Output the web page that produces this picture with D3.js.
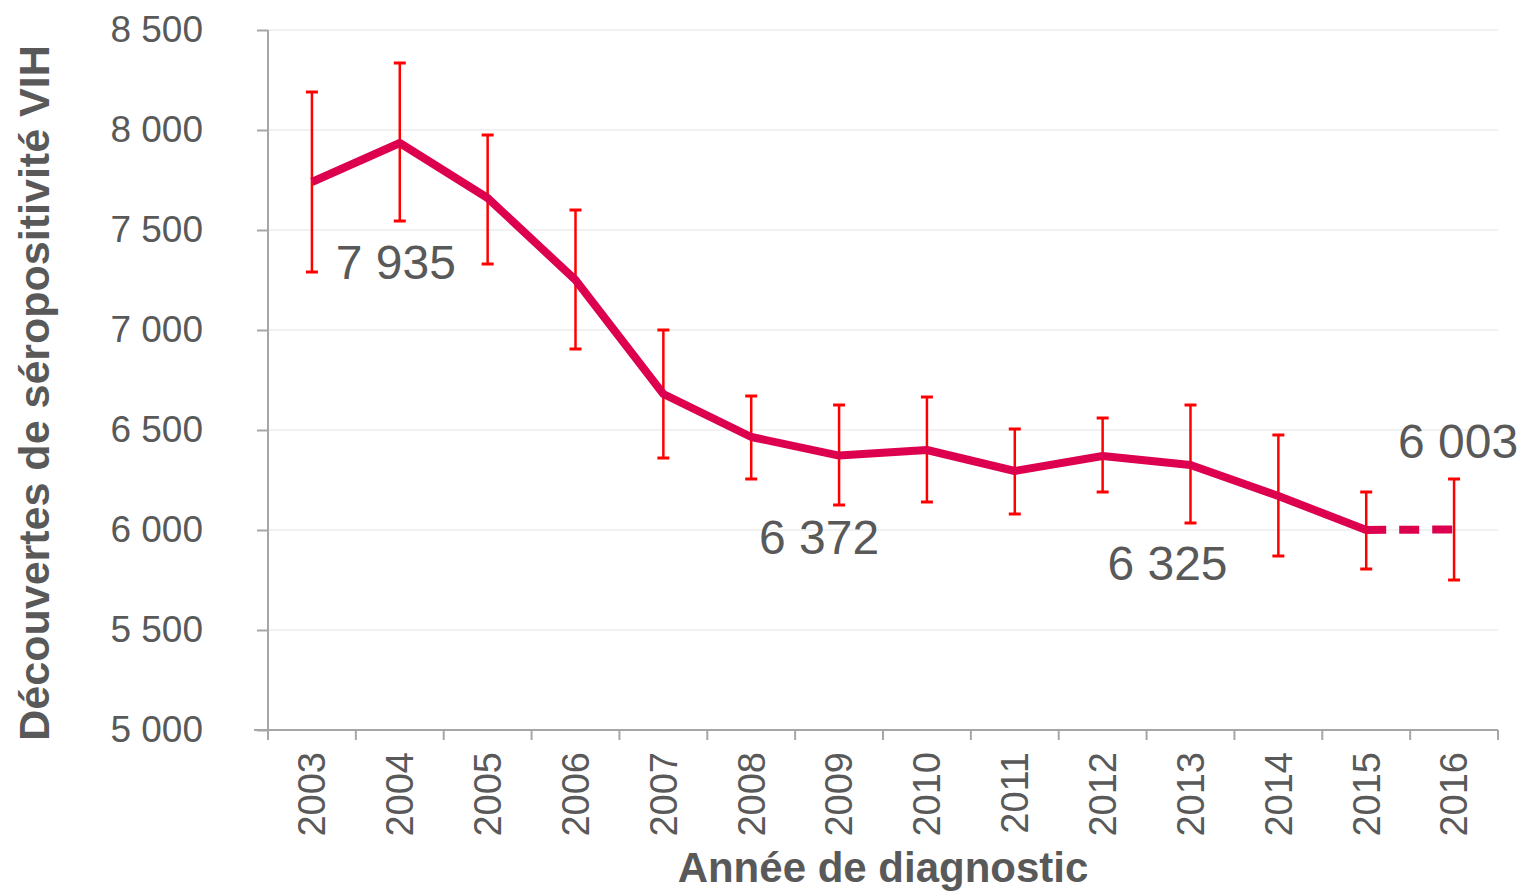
<!DOCTYPE html>
<html>
<head>
<meta charset="utf-8">
<script src="https://cdn.jsdelivr.net/npm/d3@7"></script>
<style>
  body { margin: 0; background: #fff; }
  text { font-family: "Liberation Sans", Arial, sans-serif; fill: #595959; }
</style>
</head>
<body>
<svg id="chart"></svg>
<script>
// data
var years = [2003, 2004, 2005, 2006, 2007, 2008, 2009, 2010, 2011, 2012, 2013, 2014, 2015, 2016];
var cases = [7740, 7935, 7660, 7250, 6680, 6465, 6372, 6400, 6295, 6370, 6325, 6170, 6000, 6003];
var lower = [7290, 7545, 7330, 6905, 6360, 6255, 6125, 6140, 6080, 6190, 6035, 5870, 5805, 5750];
var upper = [8190, 8335, 7975, 7600, 7000, 6670, 6625, 6665, 6505, 6560, 6625, 6475, 6190, 6255];
var yTicks = [5000, 5500, 6000, 6500, 7000, 7500, 8000, 8500];
var labelYears = [2004, 2009, 2013, 2016];
var labelTexts = ["7 935", "6 372", "6 325", "6 003"];

var margin = {top: 30, right: 24, bottom: 162, left: 268};
var width = 1230, height = 700;

var data = years.map(function(y, i) {
  return {year: y, value: cases[i], lo: lower[i], hi: upper[i]};
});

var fr = d3.formatLocale({decimal: ",", thousands: " ", grouping: [3], currency: ["", "€"]});
var fmt = fr.format(",");

var svg = d3.select("#chart")
    .attr("width", 1522)
    .attr("height", 892)
  .append("g")
    .attr("transform", "translate(" + margin.left + "," + margin.top + ")");

var x = d3.scaleBand().domain(years).range([0, width]);
var y = d3.scaleLinear().domain([5000, 8500]).range([height, 0]);

function cx(yr) { return x(yr) + x.bandwidth() / 2; }

// grid
svg.selectAll(".grid")
  .data(yTicks.slice(1))
  .enter().append("line")
    .attr("x1", 0).attr("x2", width)
    .attr("y1", function(d) { return y(d); })
    .attr("y2", function(d) { return y(d); })
    .attr("stroke", "#ececec")
    .attr("stroke-width", 1.5);

// y axis
var yAxis = svg.append("g")
  .call(d3.axisLeft(y).tickValues(yTicks).tickFormat(fmt).tickSize(11).tickPadding(54));
yAxis.select(".domain").attr("stroke", "#a6a6a6").attr("stroke-width", 2)
  .attr("d", "M0,0V" + (height + 10));
yAxis.selectAll(".tick line").attr("stroke", "#a6a6a6").attr("stroke-width", 2);
yAxis.selectAll(".tick text")
  .style("font-family", "Liberation Sans, Arial, sans-serif")
  .style("font-size", "37px")
  .attr("fill", "#595959");

// x axis (ticks on band boundaries)
var xAxis = svg.append("g")
  .attr("transform", "translate(0," + height + ")");
xAxis.append("line")
  .attr("x1", -14).attr("x2", width)
  .attr("stroke", "#a6a6a6").attr("stroke-width", 2);
xAxis.selectAll(".xtick")
  .data(years.concat(["end"]))
  .enter().append("line")
    .attr("x1", function(d, i) { return i < years.length ? x(d) : width; })
    .attr("x2", function(d, i) { return i < years.length ? x(d) : width; })
    .attr("y1", 0).attr("y2", 10)
    .attr("stroke", "#a6a6a6").attr("stroke-width", 2);
xAxis.selectAll(".xlabel")
  .data(years)
  .enter().append("text")
    .attr("transform", function(d) { return "translate(" + cx(d) + ",22) rotate(-90)"; })
    .attr("text-anchor", "end")
    .attr("dy", "0.35em")
    .style("font-size", "38px")
    .text(function(d) { return d; });

// axis titles
svg.append("text")
  .attr("x", width / 2)
  .attr("y", height + 152)
  .attr("text-anchor", "middle")
  .style("font-size", "42px")
  .style("font-weight", "bold")
  .text("Année de diagnostic");

svg.append("text")
  .attr("transform", "translate(-234," + (height / 2 + 13) + ") rotate(-90)")
  .attr("text-anchor", "middle")
  .attr("dy", "0.35em")
  .style("font-size", "43px")
  .style("font-weight", "bold")
  .text("Découvertes de séropositivité VIH");

// error bars
var eb = svg.selectAll(".err")
  .data(data)
  .enter().append("g")
    .attr("class", "err");
eb.append("line")
  .attr("x1", function(d) { return cx(d.year); })
  .attr("x2", function(d) { return cx(d.year); })
  .attr("y1", function(d) { return y(d.lo); })
  .attr("y2", function(d) { return y(d.hi); })
  .attr("stroke", "#ff0000").attr("stroke-width", 2.5);
eb.selectAll(".cap")
  .data(function(d) { return [{year: d.year, v: d.lo}, {year: d.year, v: d.hi}]; })
  .enter().append("line")
    .attr("x1", function(d) { return cx(d.year) - 6; })
    .attr("x2", function(d) { return cx(d.year) + 6; })
    .attr("y1", function(d) { return y(d.v); })
    .attr("y2", function(d) { return y(d.v); })
    .attr("stroke", "#ff0000").attr("stroke-width", 3);

// line: solid up to 2015, dashed for 2016
var line = d3.line()
  .x(function(d) { return cx(d.year); })
  .y(function(d) { return y(d.value); });

svg.append("path")
  .datum(data.slice(0, data.length - 1))
  .attr("d", line)
  .attr("fill", "none")
  .attr("stroke", "#dc004f")
  .attr("stroke-width", 8)
  .attr("stroke-linejoin", "round");

svg.append("path")
  .datum(data.slice(data.length - 2))
  .attr("d", line)
  .attr("fill", "none")
  .attr("stroke", "#dc004f")
  .attr("stroke-width", 8)
  .attr("stroke-dasharray", "20,13");

// value labels
var labelDx = [-4, -20, -23, 4];
var labelDy = [136, 98, 115, -71];
svg.selectAll(".vlabel")
  .data(labelYears)
  .enter().append("text")
    .attr("x", function(d, i) { return cx(d) + labelDx[i]; })
    .attr("y", function(d, i) { return y(cases[years.indexOf(d)]) + labelDy[i]; })
    .attr("text-anchor", "middle")
    .style("font-size", "48px")
    .text(function(d, i) { return labelTexts[i]; });
</script>
</body>
</html>
